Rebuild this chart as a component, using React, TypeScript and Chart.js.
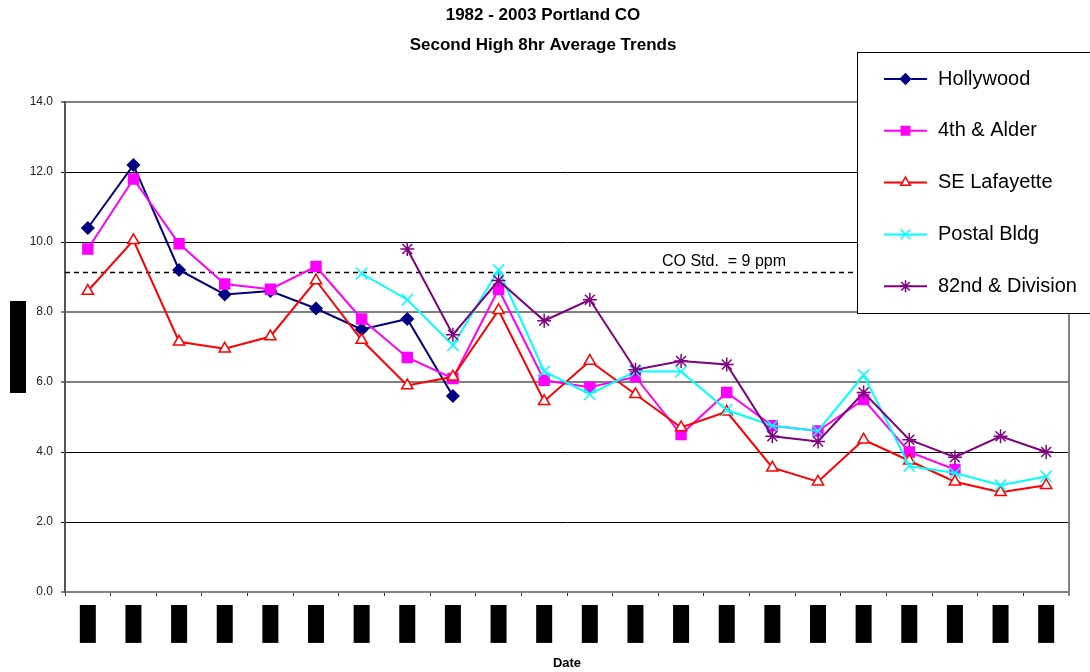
import React, { useEffect, useRef } from 'react';
import { Chart, registerables } from 'chart.js';

Chart.register(...registerables);

// ---------- data ----------
const years = ['1982', '1983', '1984', '1985', '1986', '1987', '1988', '1989', '1990', '1991', '1992',
  '1993', '1994', '1995', '1996', '1997', '1998', '1999', '2000', '2001', '2002', '2003'];

const hollywood = [10.4, 12.2, 9.2, 8.5, 8.6, 8.1, 7.5, 7.8, 5.6,
  null, null, null, null, null, null, null, null, null, null, null, null, null];
const fourthAlder = [9.8, 11.8, 9.95, 8.8, 8.65, 9.3, 7.8, 6.7, 6.1, 8.65, 6.05, 5.85, 6.15,
  4.5, 5.7, 4.75, 4.6, 5.5, 4.0, 3.5, null, null];
const seLafayette = [8.6, 10.05, 7.15, 6.95, 7.3, 8.9, 7.2, 5.9, 6.15, 8.05, 5.45, 6.6, 5.65,
  4.7, 5.15, 3.55, 3.15, 4.35, 3.75, 3.15, 2.85, 3.05];
const postalBldg = [null, null, null, null, null, null, 9.1, 8.35, 7.05, 9.2, 6.3, 5.65, 6.3,
  6.3, 5.2, 4.75, 4.6, 6.2, 3.6, 3.4, 3.05, 3.3];
const division82nd = [null, null, null, null, null, null, null, 9.8, 7.35, 8.9, 7.75, 8.35, 6.35,
  6.6, 6.5, 4.45, 4.3, 5.7, 4.35, 3.85, 4.45, 4.0];

const seriesNames = ['Hollywood', '4th & Alder', 'SE Lafayette', 'Postal Bldg', '82nd & Division'];
const seriesColors = ['#000080', '#FF00FF', '#FF0000', '#00FFFF', '#800080'];
const seriesMarkers = ['rectRot', 'rect', 'triangle', 'crossRot', 'star'];
const seriesFills = ['#000080', '#FF00FF', '#FFFFFF', '#00FFFF', '#800080'];
const seriesRadius = [6, 7, 6.5, 8, 7];
const seriesValues = [hollywood, fourthAlder, seLafayette, postalBldg, division82nd];

const yTicks = [0, 2, 4, 6, 8, 10, 12, 14];
const coStd = 9.15;
const coStdLabel = 'CO Std.  = 9 ppm';
const titleLines = ['1982 - 2003 Portland CO', 'Second High 8hr Average Trends'];
const xTitle = 'Date';
const yTitle = 'CO (ppm)';

const FONT = '"Liberation Sans", Arial, Helvetica, sans-serif';

function drawMarker(ctx: CanvasRenderingContext2D, style: string, x: number, y: number, r: number, color: string, fill: string) {
  ctx.save();
  ctx.strokeStyle = color;
  ctx.fillStyle = fill;
  ctx.lineWidth = 1.5;
  ctx.beginPath();
  if (style === 'rectRot') {
    ctx.moveTo(x, y - r); ctx.lineTo(x + r, y); ctx.lineTo(x, y + r); ctx.lineTo(x - r, y); ctx.closePath();
    ctx.fill(); ctx.stroke();
  } else if (style === 'rect') {
    const s = r * Math.SQRT1_2;
    ctx.rect(x - s, y - s, 2 * s, 2 * s); ctx.fill(); ctx.stroke();
  } else if (style === 'triangle') {
    ctx.moveTo(x, y - r); ctx.lineTo(x + 0.866 * r, y + 0.5 * r); ctx.lineTo(x - 0.866 * r, y + 0.5 * r); ctx.closePath();
    ctx.fill(); ctx.stroke();
  } else if (style === 'crossRot') {
    const d = r * Math.SQRT1_2;
    ctx.moveTo(x - d, y - d); ctx.lineTo(x + d, y + d); ctx.moveTo(x + d, y - d); ctx.lineTo(x - d, y + d); ctx.stroke();
  } else if (style === 'star') {
    const d = r * Math.SQRT1_2;
    ctx.moveTo(x, y - r); ctx.lineTo(x, y + r); ctx.moveTo(x - r, y); ctx.lineTo(x + r, y);
    ctx.moveTo(x - d, y - d); ctx.lineTo(x + d, y + d); ctx.moveTo(x + d, y - d); ctx.lineTo(x - d, y + d); ctx.stroke();
  }
  ctx.restore();
}

const decorPlugin = {
  id: 'decor',
  beforeDatasetsDraw(chart: any) {
    const { ctx, chartArea: a, scales } = chart;
    const y = scales.y;
    ctx.save();
    // plot-area right border
    ctx.strokeStyle = '#808080';
    ctx.lineWidth = 2;
    ctx.beginPath();
    ctx.moveTo(a.right, a.top);
    ctx.lineTo(a.right, a.bottom + 4);
    ctx.stroke();
    // CO standard line
    const yy = Math.round(y.getPixelForValue(coStd)) + 0.5;
    ctx.setLineDash([5, 4]);
    ctx.strokeStyle = '#000';
    ctx.lineWidth = 1.5;
    ctx.beginPath();
    ctx.moveTo(a.left, yy);
    ctx.lineTo(a.right, yy);
    ctx.stroke();
    ctx.setLineDash([]);
    ctx.font = `16px ${FONT}`;
    ctx.fillStyle = '#000';
    ctx.textAlign = 'left';
    ctx.textBaseline = 'alphabetic';
    ctx.fillText(coStdLabel, a.left + 597, yy - 7);
    ctx.restore();
  },
  afterDraw(chart: any) {
    const { ctx, chartArea: a } = chart;
    ctx.save();
    // titles
    ctx.fillStyle = '#000';
    ctx.font = `bold 17px ${FONT}`;
    ctx.textAlign = 'center';
    ctx.textBaseline = 'middle';
    ctx.fillText(titleLines[0], 543, 15);
    ctx.fillText(titleLines[1], 543, 45);
    // y axis title (rendered as solid block)
    const cy = (a.top + a.bottom) / 2;
    ctx.fillRect(10, cy - 46, 16, 92);
    ctx.translate(18, cy);
    ctx.rotate(-Math.PI / 2);
    ctx.font = `bold 13px ${FONT}`;
    ctx.fillText(yTitle, 0, 0);
    ctx.setTransform(1, 0, 0, 1, 0, 0);
    // legend
    const lx = 857, ly = 52;
    ctx.fillStyle = '#fff';
    ctx.fillRect(lx, ly, 260, 262);
    ctx.strokeStyle = '#000';
    ctx.lineWidth = 1;
    ctx.strokeRect(lx + 0.5, ly + 0.5, 260, 261);
    ctx.font = `20px ${FONT}`;
    ctx.textAlign = 'left';
    ctx.textBaseline = 'middle';
    seriesNames.forEach((name, i) => {
      const iy = 79 + i * 51.8;
      ctx.strokeStyle = seriesColors[i];
      ctx.lineWidth = 2;
      ctx.beginPath();
      ctx.moveTo(884, iy);
      ctx.lineTo(927, iy);
      ctx.stroke();
      drawMarker(ctx, seriesMarkers[i], 905.5, iy, seriesRadius[i] * 0.85, seriesColors[i], seriesFills[i]);
      ctx.fillStyle = '#000';
      ctx.fillText(name, 938, iy);
    });
    ctx.restore();
  },
};

export default function App() {
  const ref = useRef<HTMLCanvasElement>(null);

  useEffect(() => {
    const canvas = ref.current;
    if (!canvas) return;
    const chart = new Chart(canvas, {
      type: 'line',
      data: {
        labels: years,
        datasets: seriesNames.map((name, i) => ({
          label: name,
          data: seriesValues[i],
          borderColor: seriesColors[i],
          backgroundColor: seriesFills[i],
          borderWidth: 2,
          pointStyle: seriesMarkers[i] as any,
          pointRadius: seriesRadius[i],
          pointBorderColor: seriesColors[i],
          pointBackgroundColor: seriesFills[i],
          pointBorderWidth: 1.5,
          tension: 0,
          spanGaps: false,
          order: seriesNames.length - 1 - i,
        })),
      },
      options: {
        responsive: false,
        animation: false,
        devicePixelRatio: 1,
        layout: { padding: { top: 102, right: 21, left: 0, bottom: 0 } },
        plugins: {
          legend: { display: false },
          title: { display: false },
          tooltip: { enabled: false },
        },
        scales: {
          x: {
            type: 'category',
            offset: true,
            grid: {
              display: true,
              drawOnChartArea: false,
              drawTicks: true,
              tickLength: 4,
              offset: true,
              color: '#333',
              lineWidth: 1,
            },
            border: { display: true, color: '#808080', width: 2 },
            ticks: {
              autoSkip: false,
              maxRotation: 90,
              minRotation: 90,
              color: '#000',
              font: { size: 12, family: FONT, lineHeight: 1.2 },
              showLabelBackdrop: true,
              backdropColor: '#000',
              backdropPadding: { top: 0.8, bottom: 0.8, left: 5.6, right: 5.6 },
              padding: 14.6,
              labelOffset: -7.2,
            } as any,
            title: {
              display: true,
              text: xTitle,
              color: '#000',
              font: { size: 13, weight: 'bold', family: FONT },
              padding: { top: 0, bottom: 1 },
            },
            afterFit: (s: any) => { s.height = 80; },
          },
          y: {
            min: 0,
            max: 14,
            afterBuildTicks: (s: any) => { s.ticks = yTicks.map((v) => ({ value: v })); },
            ticks: {
              callback: (v: any) => Number(v).toFixed(1),
              color: '#222',
              font: { size: 12, family: FONT },
              padding: 8,
            },
            grid: {
              drawTicks: true,
              tickLength: 4,
              color: (c: any) => ([14, 8, 6, 0].includes(c.tick?.value) ? '#808080' : '#000'),
              lineWidth: (c: any) => ([14, 8, 6, 0].includes(c.tick?.value) ? 2 : 1),
            },
            border: { display: true, color: '#555', width: 2 },
            afterFit: (s: any) => { s.width = 65; },
          },
        },
      },
      plugins: [decorPlugin],
    });
    return () => chart.destroy();
  }, []);

  return (
    <div style={{ position: 'absolute', left: 0, top: 0, width: 1090, height: 672, background: '#fff' }}>
      <canvas ref={ref} width={1090} height={672} style={{ display: 'block', width: 1090, height: 672 }} />
    </div>
  );
}
